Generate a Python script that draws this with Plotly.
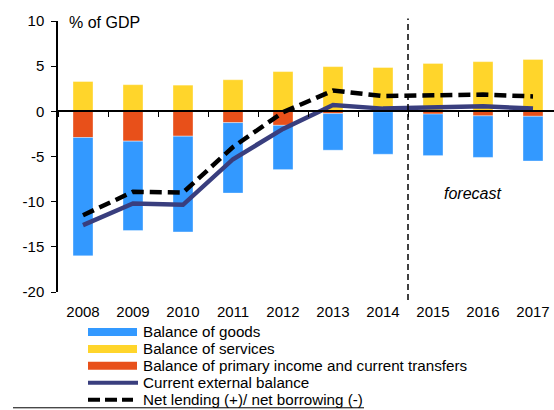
import plotly.graph_objects as go

years = ["2008", "2009", "2010", "2011", "2012", "2013", "2014", "2015", "2016", "2017"]
goods = [-13.1, -9.9, -10.6, -7.8, -4.9, -4.05, -4.7, -4.6, -4.6, -4.95]
services = [3.3, 2.95, 2.9, 3.5, 4.4, 4.95, 4.85, 5.3, 5.5, 5.75]
primary = [-2.9, -3.3, -2.75, -1.25, -1.55, -0.25, -0.05, -0.3, -0.5, -0.55]
current_balance = [-12.6, -10.2, -10.35, -5.3, -1.95, 0.7, 0.3, 0.4, 0.55, 0.3]
net_lending = [-11.5, -8.9, -9.0, -3.95, -0.1, 2.3, 1.7, 1.75, 1.85, 1.65]

y_ticks = [10, 5, 0, -5, -10, -15, -20]
legend_labels = [
    "Balance of goods",
    "Balance of services",
    "Balance of primary income and current transfers",
    "Current external balance",
    "Net lending (+)/ net borrowing (-)",
]

BLUE = "#3399FF"
YELLOW = "#FFD52B"
ORANGE = "#E8501A"
NAVY = "#393E7E"
FONT = "Liberation Sans, Arial, sans-serif"

W, H = 554, 410
ML, MR, MT, MB = 58, 0, 20.5, 118
PW, PH = W - ML - MR, H - MT - MB


def px(x):
    return (x - ML) / PW


def py(y):
    return (H - MB - y) / PH


fig = go.Figure()
bar_line = dict(width=0.6, color="rgba(255,255,255,0.6)")
fig.add_trace(go.Bar(x=years, y=services, marker=dict(color=YELLOW, line=bar_line), width=0.4, showlegend=False))
fig.add_trace(go.Bar(x=years, y=primary, marker=dict(color=ORANGE, line=bar_line), width=0.4, showlegend=False))
fig.add_trace(go.Bar(x=years, y=goods, marker=dict(color=BLUE, line=bar_line), width=0.4, showlegend=False))
fig.add_trace(go.Scatter(x=years, y=current_balance, mode="lines",
                         line=dict(color=NAVY, width=4.5), showlegend=False))
fig.add_trace(go.Scatter(x=years, y=net_lending, mode="lines",
                         line=dict(color="black", width=4.5, dash="12px,6px"), showlegend=False))
# invisible trace to carry the zero-level axis with boundary ticks
fig.add_trace(go.Scatter(x=years, y=[None] * len(years), xaxis="x2", showlegend=False, hoverinfo="skip"))

fig.update_layout(
    width=W, height=H,
    margin=dict(l=ML, r=MR, t=MT, b=MB, pad=0),
    paper_bgcolor="white", plot_bgcolor="white",
    barmode="relative", bargap=0.6,
    font=dict(family=FONT, size=15, color="black"),
    showlegend=False,
    xaxis=dict(type="category", range=[-0.5, 9.42], showline=False, showgrid=False,
               zeroline=False, ticks="outside", ticklen=6, tickcolor="rgba(0,0,0,0)",
               tickfont=dict(size=15, family=FONT, color="black")),
    xaxis2=dict(type="category", range=[-0.5, 9.42], overlaying="x", anchor="free",
                position=20 / 30, showline=True, linecolor="black", linewidth=1.5,
                ticks="outside", tickson="boundaries", ticklen=5, tickwidth=1.3,
                tickcolor="black", showticklabels=False, showgrid=False, zeroline=False),
    yaxis=dict(range=[-20, 10], tickvals=y_ticks, ticktext=[str(v) for v in y_ticks],
               showline=True, linecolor="black", linewidth=1.5, ticks="outside",
               ticklen=5, tickwidth=1.3, tickcolor="black", showgrid=False,
               zeroline=False, ticklabelstandoff=4,
               tickfont=dict(size=15, family=FONT, color="black")),
)

# forecast divider
fig.add_shape(type="line", xref="x", yref="paper", x0=6.5, x1=6.5, y0=py(300), y1=py(18),
              line=dict(color="black", width=1.5, dash="6px,4px"))

fig.add_annotation(text="% of GDP", xref="paper", yref="y", x=px(67), y=9.83,
                   xanchor="left", yanchor="middle", showarrow=False,
                   font=dict(size=16, family=FONT, color="black"))
fig.add_annotation(text="<i>forecast</i>", xref="x", yref="y", x=7.78, y=-9.06,
                   xanchor="center", yanchor="middle", showarrow=False,
                   font=dict(size=16, family=FONT, color="black"))

# manual legend
rows = [332, 349, 366, 383, 400]
styles = [
    dict(color=BLUE, width=8),
    dict(color=YELLOW, width=8),
    dict(color=ORANGE, width=8),
    dict(color=NAVY, width=4),
    dict(color="black", width=4, dash="12px,5px"),
]
ends = [137, 137, 137, 138, 133]
for label, yc, st, xe in zip(legend_labels, rows, styles, ends):
    fig.add_shape(type="line", xref="paper", yref="paper", x0=px(88), x1=px(xe),
                  y0=py(yc), y1=py(yc), line=st)
    fig.add_annotation(text=label, xref="paper", yref="paper", x=px(141), y=py(yc),
                       xanchor="left", yanchor="middle", showarrow=False,
                       font=dict(size=15.2, family=FONT, color="black"))

fig.add_shape(type="line", xref="paper", yref="paper", x0=px(13), x1=px(364),
              y0=py(408), y1=py(408), line=dict(color="black", width=1))

fig.write_html("out.html",
               config={"displayModeBar": False},
               post_script="document.body.style.margin='0';document.body.style.overflow='hidden';")
